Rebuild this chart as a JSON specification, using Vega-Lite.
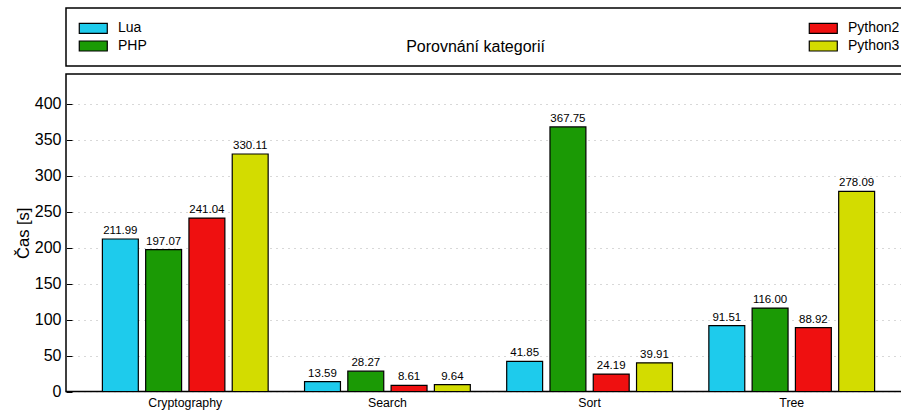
{
  "$schema": "https://vega.github.io/schema/vega-lite/v6.json",
  "width": 845,
  "height": 317.5,
  "autosize": {"type": "none"},
  "padding": {"left": 66, "top": 74, "right": 0, "bottom": 19},
  "background": "white",
  "title": {"text": "Porovnání kategorií", "fontSize": 16, "fontWeight": "normal", "font": "Liberation Sans", "color": "black", "anchor": "middle", "dx": -13, "dy": 52},
  "config": {
    "font": "Liberation Sans",
    "view": {"stroke": "black", "strokeWidth": 1.5},
    "axis": {"labelColor": "black", "titleColor": "black", "labelFont": "Liberation Sans", "titleFont": "Liberation Sans"},
    "legend": {"strokeWidth": 1.5}
  },
  "data": {"values": [
    {"category": "Cryptography", "lang": "Lua", "time": 211.99},
    {"category": "Cryptography", "lang": "PHP", "time": 197.07},
    {"category": "Cryptography", "lang": "Python2", "time": 241.04},
    {"category": "Cryptography", "lang": "Python3", "time": 330.11},
    {"category": "Search", "lang": "Lua", "time": 13.59},
    {"category": "Search", "lang": "PHP", "time": 28.27},
    {"category": "Search", "lang": "Python2", "time": 8.61},
    {"category": "Search", "lang": "Python3", "time": 9.64},
    {"category": "Sort", "lang": "Lua", "time": 41.85},
    {"category": "Sort", "lang": "PHP", "time": 367.75},
    {"category": "Sort", "lang": "Python2", "time": 24.19},
    {"category": "Sort", "lang": "Python3", "time": 39.91},
    {"category": "Tree", "lang": "Lua", "time": 91.51},
    {"category": "Tree", "lang": "PHP", "time": 116.00},
    {"category": "Tree", "lang": "Python2", "time": 88.92},
    {"category": "Tree", "lang": "Python3", "time": 278.09}
  ]},
  "encoding": {
    "x": {"field": "category", "type": "nominal", "sort": null,
      "scale": {"paddingInner": 0.18, "paddingOuter": 0.18},
      "axis": {"title": null, "labelAngle": 0, "ticks": false, "domain": false, "labelFontSize": 12.3, "labelPadding": 5}},
    "xOffset": {"field": "lang", "type": "nominal", "sort": ["Lua", "PHP", "Python2", "Python3"],
      "scale": {"paddingInner": 0.17, "paddingOuter": 0}},
    "y": {"field": "time", "type": "quantitative",
      "scale": {"domain": [0, 441.3], "nice": false, "zero": true},
      "axis": {"title": "Čas [s]", "titleFontSize": 16.5, "titleFontWeight": "normal", "titlePadding": 3,
        "values": [0, 50, 100, 150, 200, 250, 300, 350, 400],
        "tickSize": -6, "tickColor": "black", "tickWidth": 1, "labelPadding": 11, "labelFontSize": 16,
        "domain": false,
        "grid": true, "gridColor": "#b0b0b0", "gridDash": [1, 5], "gridWidth": 1}}
  },
  "layer": [
    {
      "mark": {"type": "bar", "stroke": "black", "strokeWidth": 1.2},
      "encoding": {
        "fill": {"field": "lang", "type": "nominal",
          "scale": {"domain": ["Lua", "PHP", "Python2", "Python3"], "range": ["#1ecbec", "#1b9a05", "#ef1010", "#d3dc00"]},
          "legend": {"title": null, "orient": "none", "legendX": 0, "legendY": -66, "columns": 2, "columnPadding": 659, "rowPadding": 2,
            "padding": 12, "strokeColor": "black",
            "symbolType": "M-0.96,-0.714H3.04V0.714H-0.96Z", "symbolSize": 196, "symbolStrokeColor": "black", "symbolStrokeWidth": 1.2,
            "symbolOpacity": 1, "labelFont": "Liberation Sans", "labelFontSize": 14, "labelColor": "black", "labelOffset": 24}}
      }
    },
    {
      "mark": {"type": "text", "baseline": "bottom", "dy": -3, "fontSize": 11.5, "font": "Liberation Sans", "color": "black"},
      "encoding": {
        "text": {"field": "time", "type": "quantitative", "format": ".2f"}
      }
    }
  ]
}
